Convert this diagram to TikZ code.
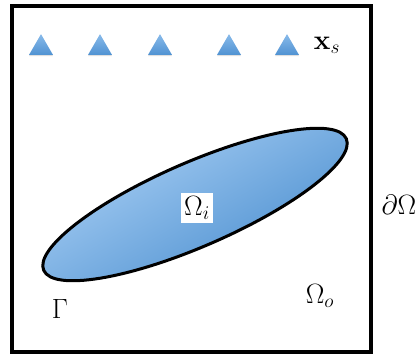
\documentclass[tikz,border=0pt]{standalone}
\usetikzlibrary{shapes.geometric,shadows}
\definecolor{lightblue}{HTML}{AAD0F5}
\definecolor{darkblue}{HTML}{4A8ECF}
\definecolor{trilight}{HTML}{88BAEA}
\definecolor{tridark}{HTML}{5092D2}
\tikzset{
  sensor/.style={regular polygon, regular polygon sides=3, minimum size=27.7pt, inner sep=0pt,
    top color=trilight, bottom color=tridark, draw=none,
    drop shadow={opacity=0.25, shadow xshift=0pt, shadow yshift=-1.2pt}},
  lbl/.style={inner sep=1pt, font=\fontsize{24}{28}\selectfont, scale=1.12, transform shape},
}
\begin{document}
\begin{tikzpicture}[x=1pt,y=1pt]
\useasboundingbox (0,0) rectangle (419,356);
% domain box
\draw[line width=3.8pt] (12,4) rectangle (371,350);
% inclusion
\shade[draw=black, line width=3pt, top color=lightblue, bottom color=darkblue, shading angle=30]
  (195,151.5) ellipse [x radius=165, y radius=42, rotate=23.5];
% sensors
\node[sensor] (s1) at (41,308) {};
\node[sensor] (s2) at (100,308) {};
\node[sensor] (s3) at (160,308) {};
\node[sensor] (s4) at (229,308) {};
\node[sensor] (s5) at (287,308) {};
\node[lbl] (xs) at (327,311) {$\mathbf{x}_s$};
% labels
\node[lbl, fill=white, inner sep=3pt] (oi) at (197,148) {$\Omega_i$};
\node[lbl] (dO) at (399,151) {$\partial\Omega$};
\node[lbl] (G) at (60,47) {$\Gamma$};
\node[lbl] (Oo) at (320,60) {$\Omega_o$};
\end{tikzpicture}
\end{document}
